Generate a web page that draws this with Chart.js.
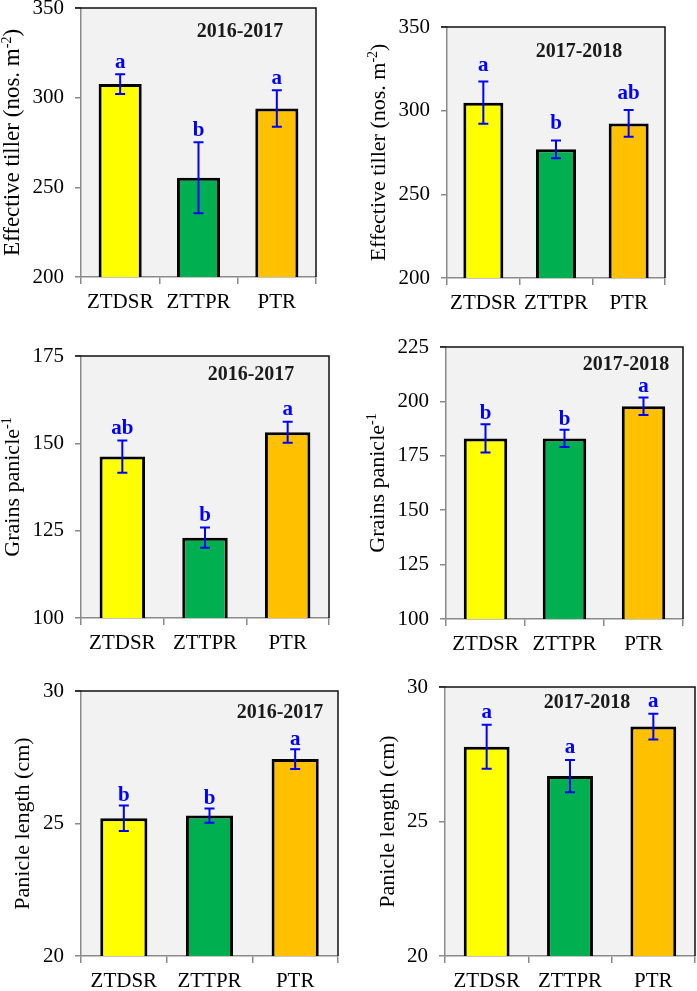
<!DOCTYPE html>
<html>
<head>
<meta charset="utf-8">
<script src="https://cdn.jsdelivr.net/npm/chart.js@4.4.1/dist/chart.umd.min.js"></script>
<style>
  body { margin: 0; background: #fff; width: 697px; height: 991px; overflow: hidden; position: relative; }
  canvas { position: absolute; }
</style>
</head>
<body>
<script>
// categories and colours
var categories = ['ZTDSR', 'ZTTPR', 'PTR'];
var barColors = ['#FFFF00', '#00B050', '#FFC000'];

// effective tiller (nos. m-2)
var tiller1617 = [307.6, 255.3, 294.0];
var tillerErr1617 = [5.5, 19.8, 10.2];
var tillerLetters1617 = ['a', 'b', 'a'];
var tiller1718 = [304.8, 276.9, 292.4];
var tillerErr1718 = [12.6, 5.3, 8.0];
var tillerLetters1718 = ['a', 'b', 'ab'];
var tillerTicks = [200, 250, 300, 350];

// grains panicle-1
var grains1617 = [146.2, 123.0, 153.2];
var grainsErr1617 = [4.6, 2.9, 3.0];
var grainsLetters1617 = ['ab', 'b', 'a'];
var grainsTicks1617 = [100, 125, 150, 175];
var grains1718 = [183.0, 183.0, 197.8];
var grainsErr1718 = [6.5, 4.0, 4.0];
var grainsLetters1718 = ['b', 'b', 'a'];
var grainsTicks1718 = [100, 125, 150, 175, 200, 225];

// panicle length (cm)
var length1617 = [25.2, 25.3, 27.43];
var lengthErr1617 = [0.48, 0.27, 0.37];
var lengthLetters1617 = ['b', 'b', 'a'];
var length1718 = [27.78, 26.69, 28.53];
var lengthErr1718 = [0.82, 0.6, 0.48];
var lengthLetters1718 = ['a', 'a', 'a'];
var lengthTicks = [20, 25, 30];

var seasons = ['2016-2017', '2017-2018'];

// panel layout (page pixels)
var panels = [
  { x: 0,   y: -20, w: 350, h: 340, yw: 81, top: 28, right: 34, xh: 43, titleX: 12, tsize: 23, yr: [159, 24], gap: 6,
    data: tiller1617, err: tillerErr1617, letters: tillerLetters1617, ticks: tillerTicks, season: seasons[0],
    title: ['Effective tiller (nos. m', '-2', ')'] },
  { x: 350, y: -20, w: 347, h: 340, yw: 97, top: 47, right: 32, xh: 42, titleX: 28, tsize: 22, yr: [132, 25], gap: 11,
    data: tiller1718, err: tillerErr1718, letters: tillerLetters1718, ticks: tillerTicks, season: seasons[1],
    title: ['Effective tiller (nos. m', '-2', ')'] },
  { x: 0,   y: 320, w: 350, h: 330, yw: 81, top: 36, right: 21, xh: 32, titleX: 12, tsize: 22, yr: [170, 19], gap: 7,
    data: grains1617, err: grainsErr1617, letters: grainsLetters1617, ticks: grainsTicks1617, season: seasons[0],
    title: ['Grains panicle', '-1', ''] },
  { x: 350, y: 320, w: 347, h: 330, yw: 96, top: 27, right: 14, xh: 31, titleX: 27, tsize: 22, yr: [180, 18], gap: 5,
    data: grains1718, err: grainsErr1718, letters: grainsLetters1718, ticks: grainsTicks1718, season: seasons[1],
    title: ['Grains panicle', '-1', ''] },
  { x: 0,   y: 650, w: 350, h: 341, yw: 81, top: 41, right: 12, xh: 35, titleX: 22, tsize: 22, yr: [199, 22], gap: 4,
    data: length1617, err: lengthErr1617, letters: lengthLetters1617, ticks: lengthTicks, season: seasons[0],
    title: ['Panicle length (cm)', '', ''] },
  { x: 350, y: 650, w: 347, h: 341, yw: 95, top: 37, right: 2, xh: 35, titleX: 37, tsize: 22, yr: [142, 16], gap: 7,
    data: length1718, err: lengthErr1718, letters: lengthLetters1718, ticks: lengthTicks, season: seasons[1],
    title: ['Panicle length (cm)', '', ''] }
];

var FONT = "'Liberation Serif', 'Times New Roman', serif";
var axisGray = '#8a8a8a';

function makeExtras(p){
  return {
    id: 'extras',
    beforeDraw: function(chart){
      var a = chart.chartArea, ctx = chart.ctx;
      ctx.save();
      ctx.fillStyle = '#f2f2f2';
      ctx.fillRect(a.left, a.top, a.right - a.left, a.bottom - a.top);
      ctx.restore();
    },
    afterDraw: function(chart){
      var a = chart.chartArea, ctx = chart.ctx;
      var ys = chart.scales.y;
      var bars = chart.getDatasetMeta(0).data;
      ctx.save();

      // top and right frame
      ctx.strokeStyle = '#111';
      ctx.lineWidth = 1.5;
      ctx.beginPath();
      ctx.moveTo(a.left - 6, a.top);
      ctx.lineTo(a.right, a.top);
      ctx.lineTo(a.right, a.bottom);
      ctx.stroke();

      // error bars + letters
      ctx.strokeStyle = '#0000FF';
      ctx.fillStyle = '#0000FF';
      ctx.lineWidth = 2;
      ctx.font = 'bold 21px ' + FONT;
      ctx.textAlign = 'center';
      ctx.textBaseline = 'alphabetic';
      for (var i = 0; i < bars.length; i++){
        var x = bars[i].x;
        var hi = ys.getPixelForValue(p.data[i] + p.err[i]);
        var lo = ys.getPixelForValue(p.data[i] - p.err[i]);
        ctx.beginPath();
        ctx.moveTo(x, hi); ctx.lineTo(x, lo);
        ctx.moveTo(x - 5, hi); ctx.lineTo(x + 5, hi);
        ctx.moveTo(x - 5, lo); ctx.lineTo(x + 5, lo);
        ctx.stroke();
        ctx.fillText(p.letters[i], x, hi - p.gap);
      }

      // season label
      ctx.fillStyle = '#1a1a1a';
      ctx.font = 'bold 20px ' + FONT;
      ctx.textBaseline = 'middle';
      ctx.fillText(p.season, a.left + p.yr[0], a.top + p.yr[1]);

      // y title with superscript
      var big = p.tsize + 'px ' + FONT, small = Math.round(p.tsize * 0.62) + 'px ' + FONT;
      ctx.font = big; var w0 = ctx.measureText(p.title[0]).width;
      var w2 = ctx.measureText(p.title[2]).width;
      ctx.font = small; var w1 = ctx.measureText(p.title[1]).width;
      var total = w0 + w1 + w2;
      ctx.translate(p.titleX, (a.top + a.bottom) / 2);
      ctx.rotate(-Math.PI / 2);
      ctx.fillStyle = '#000';
      ctx.textAlign = 'left';
      ctx.textBaseline = 'middle';
      var sx = -total / 2;
      ctx.font = big; ctx.fillText(p.title[0], sx, 1);
      ctx.font = small; ctx.fillText(p.title[1], sx + w0, -5);
      ctx.font = big; ctx.fillText(p.title[2], sx + w0 + w1, 1);
      ctx.restore();
    }
  };
}

panels.forEach(function(p){
  var cv = document.createElement('canvas');
  cv.width = p.w; cv.height = p.h;
  cv.style.left = p.x + 'px'; cv.style.top = p.y + 'px';
  cv.style.width = p.w + 'px'; cv.style.height = p.h + 'px';
  document.body.appendChild(cv);

  new Chart(cv.getContext('2d'), {
    type: 'bar',
    data: {
      labels: categories,
      datasets: [{
        data: p.data,
        backgroundColor: barColors,
        borderColor: '#000',
        borderWidth: 3,
        barPercentage: 0.55,
        categoryPercentage: 1
      }]
    },
    options: {
      responsive: false,
      animation: false,
      devicePixelRatio: 1,
      layout: { padding: { left: 0, top: p.top, right: p.right, bottom: 0 } },
      plugins: { legend: { display: false }, tooltip: { enabled: false } },
      scales: {
        x: {
          grid: { offset: true, drawOnChartArea: false, tickLength: 7, color: axisGray, lineWidth: 1.5 },
          border: { color: axisGray, width: 1.5 },
          ticks: { color: '#000', font: { family: FONT, size: 21 }, padding: 6 },
          afterFit: function(s){ s.height = p.xh; s.paddingLeft = 0; s.paddingRight = 0; }
        },
        y: {
          min: p.ticks[0],
          max: p.ticks[p.ticks.length - 1],
          afterBuildTicks: function(s){ s.ticks = p.ticks.map(function(v){ return { value: v }; }); },
          grid: { drawOnChartArea: false, tickLength: 6, color: axisGray, lineWidth: 1.5 },
          border: { color: axisGray, width: 1.5 },
          ticks: { color: '#000', font: { family: FONT, size: 21 }, padding: 11 },
          afterFit: function(s){ s.width = p.yw; s.paddingTop = 0; s.paddingBottom = 0; }
        }
      }
    },
    plugins: [makeExtras(p)]
  });
});
</script>
</body>
</html>
